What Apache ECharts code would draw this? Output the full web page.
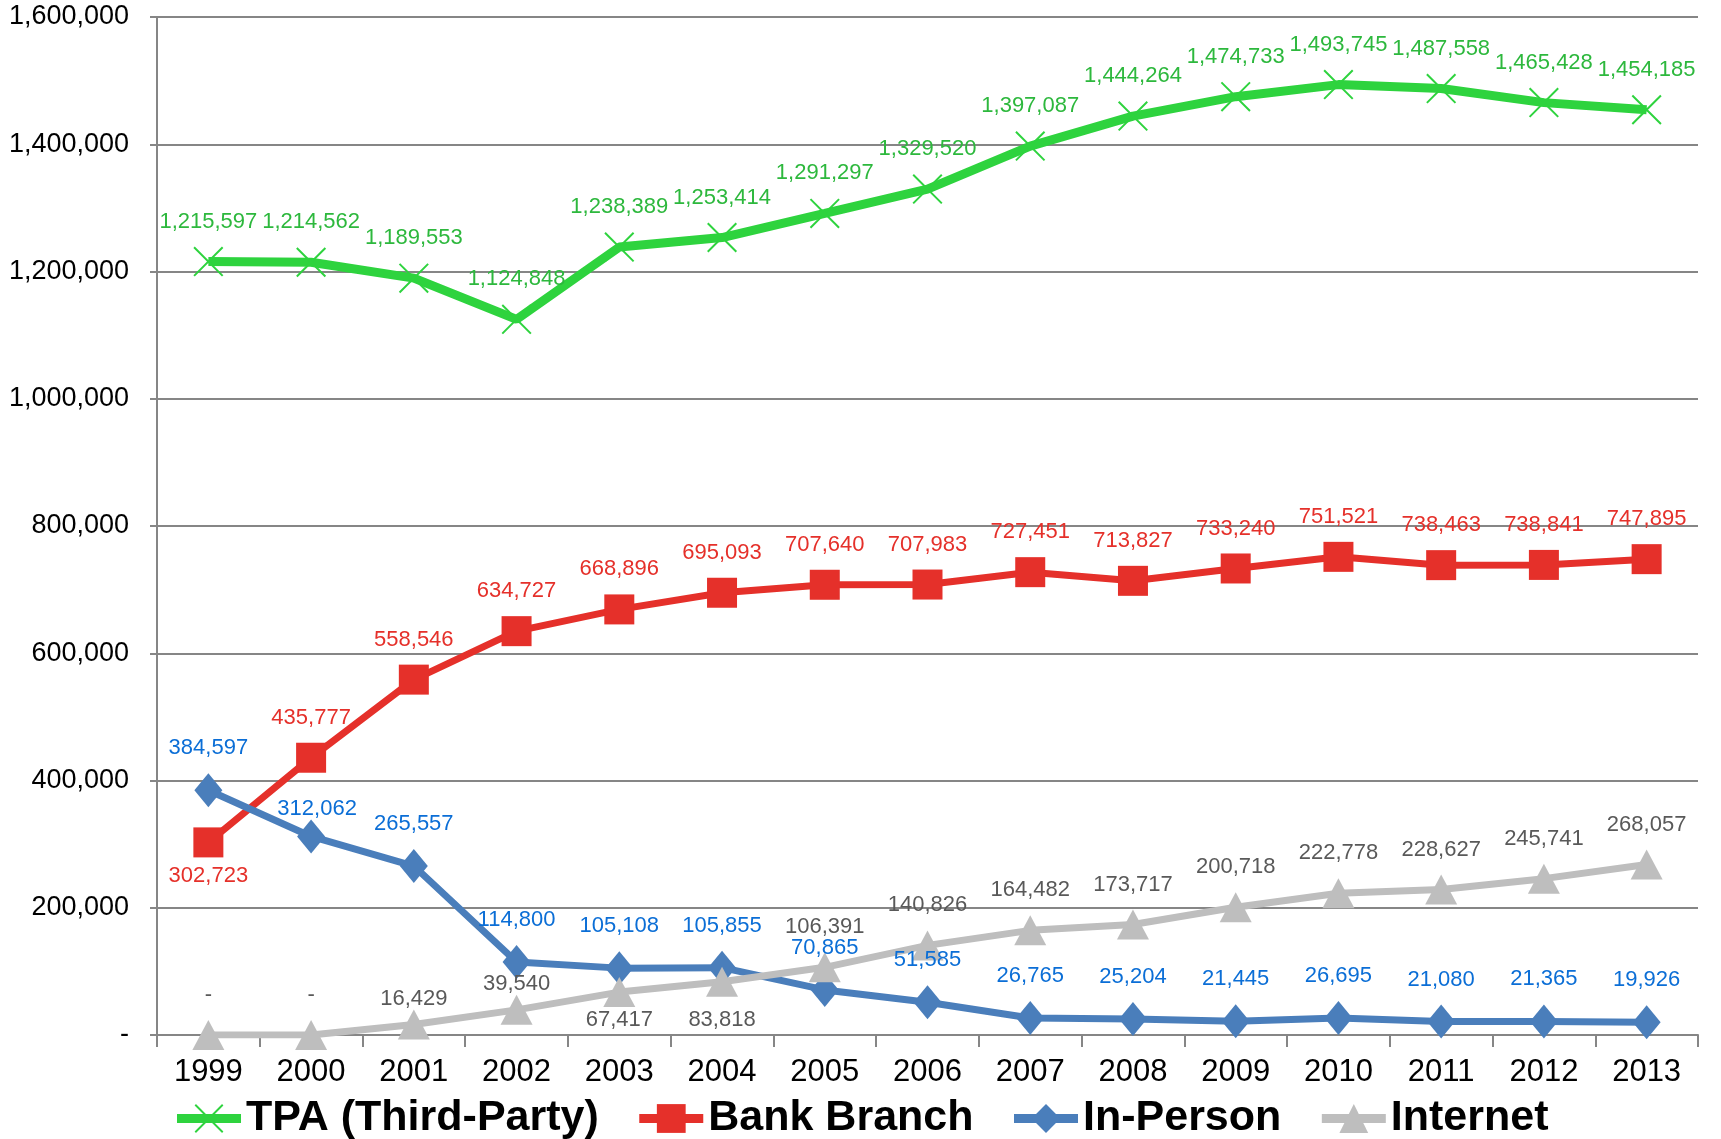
<!DOCTYPE html>
<html>
<head>
<meta charset="utf-8">
<script src="https://cdn.jsdelivr.net/npm/echarts@6/dist/echarts.min.js"></script>
<style>
    html, body { margin: 0; padding: 0; background: #fff; }
    #main { width: 1721px; height: 1139px; }
</style>
</head>
<body>
<div id="main"></div>
<script>
var years = ['1999', '2000', '2001', '2002', '2003', '2004', '2005', '2006', '2007', '2008', '2009', '2010', '2011', '2012', '2013'];
var tpa = [1215597, 1214562, 1189553, 1124848, 1238389, 1253414, 1291297, 1329520, 1397087, 1444264, 1474733, 1493745, 1487558, 1465428, 1454185];
var bankBranch = [302723, 435777, 558546, 634727, 668896, 695093, 707640, 707983, 727451, 713827, 733240, 751521, 738463, 738841, 747895];
var inPerson = [384597, 312062, 265557, 114800, 105108, 105855, 70865, 51585, 26765, 25204, 21445, 26695, 21080, 21365, 19926];
var internet = [0, 0, 16429, 39540, 67417, 83818, 106391, 140826, 164482, 173717, 200718, 222778, 228627, 245741, 268057];

var sans = "'Liberation Sans', Arial, sans-serif";

function fmt(v) {
    if (!v) return '-';
    var num = Math.round(v).toString(), result = '';
    while (num.length > 3) {
        result = ',' + num.slice(-3) + result;
        num = num.slice(0, num.length - 3);
    }
    return num + result;
}

// per-point label tweaks (index -> label options), like the hand-placed labels in the original
function withLabels(values, tweaks) {
    return values.map(function (v, i) {
        if (tweaks[i]) return { value: v, label: tweaks[i] };
        return v;
    });
}

function lineSeries(name, values, color, labelColor, symbol, size, width, tweaks) {
    return {
        name: name,
        type: 'line',
        data: withLabels(values, tweaks || {}),
        symbol: symbol,
        symbolSize: size,
        showAllSymbol: true,
        lineStyle: { color: color, width: width },
        itemStyle: { color: color },
        label: {
            show: true,
            position: 'top',
            distance: 14,
            color: labelColor,
            fontFamily: sans,
            fontSize: 22,
            formatter: function (p) { return fmt(p.value); }
        }
    };
}

var crossIcon = 'path://M0,1.5 L1.5,0 L32,30.5 L30.5,32 Z M30.5,0 L32,1.5 L1.5,32 L0,30.5 Z';

var myChart = echarts.init(document.getElementById('main'));
option = {
    animation: false,
    grid: { left: 157, right: 23, top: 17, bottom: 104 },
    legend: {
        top: 1092,
        left: 'center',
        itemWidth: 64,
        itemHeight: 36,
        itemGap: 36,
        lineStyle: { width: 9 },
        textStyle: { fontSize: 43, fontWeight: 'bold', color: '#000', fontFamily: sans },
        data: ['TPA (Third-Party)', 'Bank Branch', 'In-Person', 'Internet']
    },
    xAxis: [{
        type: 'category',
        boundaryGap: true,
        data: years,
        axisLine: { lineStyle: { color: '#868686', width: 2 } },
        axisTick: { show: true, length: 12, lineStyle: { color: '#868686', width: 2 } },
        axisLabel: { interval: 0, fontSize: 31, color: '#000', fontFamily: sans, margin: 22 }
    }],
    yAxis: [{
        type: 'value',
        min: 0,
        max: 1600000,
        interval: 200000,
        axisLine: { show: true, lineStyle: { color: '#868686', width: 2 } },
        axisTick: { show: true, length: 7, lineStyle: { color: '#868686', width: 2 } },
        splitLine: { lineStyle: { color: '#868686', width: 2 } },
        axisLabel: {
            fontSize: 27, color: '#000', margin: 28,
            fontFamily: sans,
            formatter: fmt
        }
    }],
    series: [
        lineSeries('TPA (Third-Party)', tpa, '#2ED33E', '#2DB83D', crossIcon, 30, 9),
        lineSeries('Bank Branch', bankBranch, '#E5302A', '#E5302A', 'rect', 30, 7,
            { 0: { position: 'bottom', distance: 8 } }),
        lineSeries('In-Person', inPerson, '#4A7EBB', '#0B6ED6', 'diamond', [28, 34], 7,
            { 1: { distance: 0, offset: [6, 0] } }),
        lineSeries('Internet', internet, '#BEBEBE', '#595959', 'triangle', [32, 30], 7, {
            2: { distance: 0 },
            3: { distance: 0 },
            4: { position: 'bottom', distance: 2 },
            5: { position: 'bottom', distance: 12 }
        })
    ]
};

myChart.setOption(option);

window.onresize = function () {
    myChart.resize();
};
</script>
</body>
</html>
